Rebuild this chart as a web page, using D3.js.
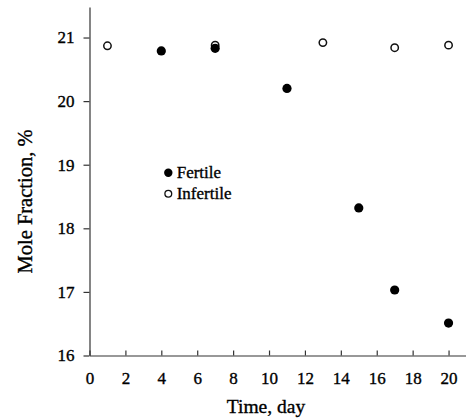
<!DOCTYPE html>
<html lang="en">
<head>
    <meta charset="UTF-8">
    <title>Mole Fraction vs Time</title>
    <script src="https://d3js.org/d3.v7.min.js"></script>
    <style>
        body { margin: 0; background: #fff; }
        svg { display: block; }
        text { font-family: "Liberation Serif", "Times New Roman", serif; fill: #000; stroke: #000; stroke-width: 0.35px; }
        .axis path, .axis line { stroke: #333; stroke-width: 1.2px; }
        .axis text { font-size: 17px; }
    </style>
</head>
<body>
    <svg width="466" height="419"></svg>

    <script>
        // data
        const fertileDays = [4, 7, 11, 15, 17, 20];
        const fertileValues = [20.79, 20.83, 20.2, 18.32, 17.03, 16.51];
        const infertileDays = [1, 7, 13, 17, 20];
        const infertileValues = [20.87, 20.88, 20.92, 20.84, 20.88];
        const xTicks = [0, 2, 4, 6, 8, 10, 12, 14, 16, 18, 20];
        const yTicks = [16, 17, 18, 19, 20, 21];

        const svg = d3.select("svg");
        const plotLeft = 89.5, plotRight = 466.5, plotTop = 7, plotBottom = 355.5;
        const serif = "'Liberation Serif', 'Times New Roman', serif";

        const x = d3.scaleLinear().domain([0, 21]).range([plotLeft, plotRight]);
        const y = d3.scaleLinear().domain([16, 21.48]).range([plotBottom, plotTop]);

        // x axis: small ticks pointing up into the plot
        svg.append("g")
            .attr("class", "axis")
            .attr("transform", `translate(0,${plotBottom})`)
            .call(d3.axisBottom(x).tickValues(xTicks).tickFormat(d3.format("d"))
                .tickSizeInner(-5).tickSizeOuter(0).tickPadding(16))
            .selectAll("text").style("font-family", serif);

        svg.append("g")
            .attr("class", "axis")
            .attr("transform", `translate(${plotLeft},0)`)
            .call(d3.axisLeft(y).tickValues(yTicks).tickFormat(d3.format("d"))
                .tickSizeInner(6).tickSizeOuter(0).tickPadding(9))
            .selectAll("text").style("font-family", serif);

        svg.append("text")
            .attr("x", 266)
            .attr("y", 413)
            .attr("text-anchor", "middle")
            .style("font-size", "19.5px")
            .text("Time, day");

        svg.append("text")
            .attr("transform", "translate(31.5,201.5) rotate(-90)")
            .attr("text-anchor", "middle")
            .style("font-size", "20.5px")
            .text("Mole Fraction, %");

        const fertile = fertileDays.map((d, i) => ({ day: d, value: fertileValues[i] }));
        const infertile = infertileDays.map((d, i) => ({ day: d, value: infertileValues[i] }));

        svg.append("g").selectAll("circle")
            .data(infertile)
            .enter().append("circle")
            .attr("cx", d => x(d.day))
            .attr("cy", d => y(d.value))
            .attr("r", 3.7)
            .attr("fill", "#fff")
            .attr("stroke", "#111")
            .attr("stroke-width", 1.5);

        svg.append("g").selectAll("circle")
            .data(fertile)
            .enter().append("circle")
            .attr("cx", d => x(d.day))
            .attr("cy", d => y(d.value))
            .attr("r", 4.6)
            .attr("fill", "#000");

        // legend
        const legend = svg.append("g").attr("transform", "translate(168.3,172.7)");
        legend.append("circle").attr("cx", 0).attr("cy", 0).attr("r", 4.2).attr("fill", "#000");
        legend.append("text").attr("x", 8.4).attr("y", 5.6).style("font-size", "17px").text("Fertile");
        legend.append("circle").attr("cx", 0).attr("cy", 21).attr("r", 3.4)
            .attr("fill", "#fff").attr("stroke", "#111").attr("stroke-width", 1.3);
        legend.append("text").attr("x", 8.4).attr("y", 26.6).style("font-size", "17px").text("Infertile");
    </script>
</body>
</html>
